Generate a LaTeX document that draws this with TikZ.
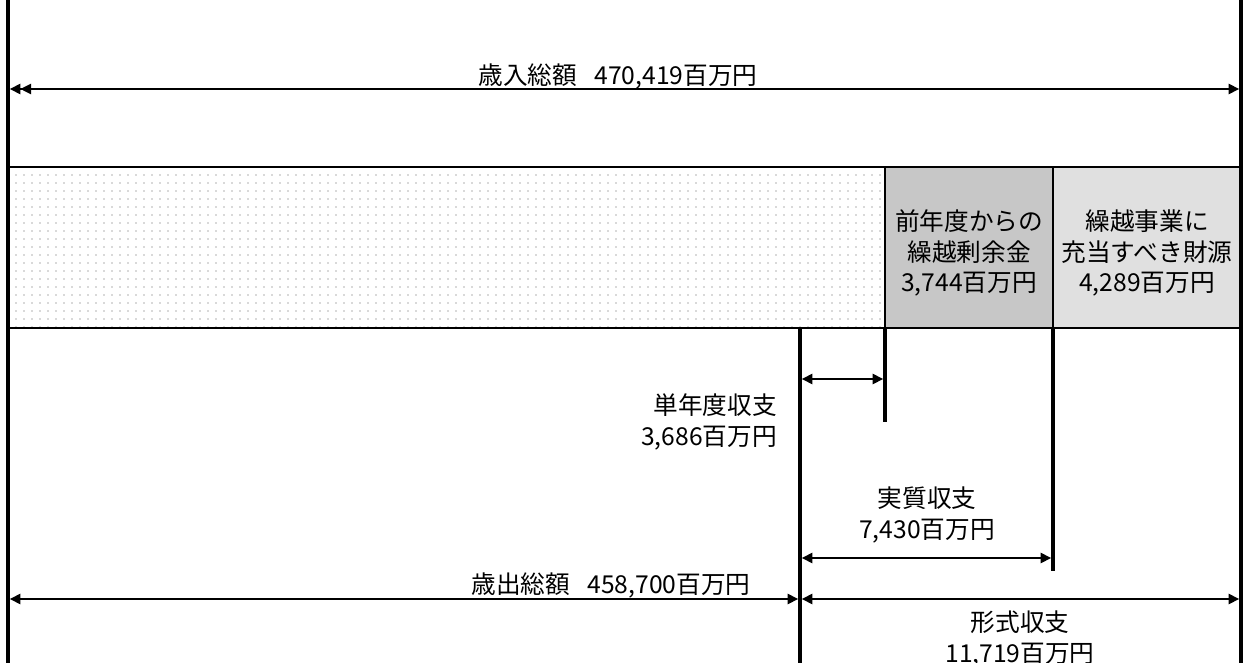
\documentclass[tikz,border=0pt]{standalone}
\usepackage{fontspec}
\setmainfont{Noto Sans CJK JP}
\usetikzlibrary{arrows.meta,patterns.meta}
\begin{document}
\begin{tikzpicture}[x=0.75pt,y=-0.75pt,
  wall/.style={line width=2.6pt},
  boxline/.style={line width=2pt},
  dimline/.style={line width=1.8pt},
  both/.style={dimline,{Triangle[length=8pt,width=7.5pt]}-{Triangle[length=8pt,width=7.5pt]}},
  lbl/.style={font=\fontsize{18.5}{23}\selectfont, inner sep=0pt, align=center},
  seglight/.style={pattern={Dots[distance=6pt,radius=0.6pt]}, pattern color=black!30},
  segmid/.style={fill=black!22},
  segpale/.style={fill=black!12}]
\useasboundingbox (0,0) rectangle (1247,663);

% named corner points
\coordinate (TL) at (8,0);    \coordinate (BL) at (8,663);
\coordinate (TR) at (1241,0); \coordinate (BR) at (1241,663);
\coordinate (b1) at (8,167);  \coordinate (b2) at (885,328);
\coordinate (b3) at (885,167);\coordinate (b4) at (1053,328);
\coordinate (b5) at (1053,167);\coordinate (b6) at (1241,328);

% box segments
\path[seglight] (b1) rectangle (b2);
\path[segmid] (b3) rectangle (b4);
\path[segpale] (b5) rectangle (b6);
\draw[boxline] (b1) rectangle (b6);
\draw[boxline] (b3) -- (885,328);
\draw[boxline] (b5) -- (1053,328);

% outer walls
\draw[wall] (TL) -- (BL);
\draw[wall] (TR) -- (BR);

% inner verticals
\coordinate (v1t) at (800,328);  \coordinate (v1b) at (800,663);
\coordinate (v2t) at (885,328);  \coordinate (v2b) at (885,422);
\coordinate (v3t) at (1053,328); \coordinate (v3b) at (1053,571);
\draw[wall] (v1t) -- (v1b);
\draw[wall] (v2t) -- (v2b);
\draw[wall] (v3t) -- (v3b);

% top dimension
\coordinate (a1) at (9.7,89);  \coordinate (a2) at (1239.3,89);
\draw[dimline,{Triangle[length=8pt,width=7.5pt]Triangle[length=8pt,width=7.5pt]}-{Triangle[length=8pt,width=7.5pt]}] (a1) -- (a2);
\node[lbl] (tin) at (618,76) {歳入総額\hspace{0.7em}470,419百万円};

% box texts
\node[lbl] (tprev) at (969,253) {前年度からの\\繰越剰余金\\3,744百万円};
\node[lbl] (tcarry) at (1147,253) {繰越事業に\\充当すべき財源\\4,289百万円};

% single year balance
\coordinate (c1) at (801.7,379); \coordinate (c2) at (883.3,379);
\draw[both] (c1) -- (c2);
\node[lbl,anchor=east,align=right] (tsingle) at (777,422) {単年度収支\\3,686百万円};

% real balance
\coordinate (d1) at (801.7,558); \coordinate (d2) at (1051.3,558);
\draw[both] (d1) -- (d2);
\node[lbl] (treal) at (927,515) {実質収支\\7,430百万円};

% bottom dimensions
\coordinate (e1) at (9.7,599); \coordinate (e2) at (798.3,599);
\coordinate (e3) at (801.7,599); \coordinate (e4) at (1239.3,599);
\draw[both] (e1) -- (e2);
\draw[both] (e3) -- (e4);
\node[lbl] (tout) at (611,585) {歳出総額\hspace{0.7em}458,700百万円};
\node[lbl] (tform) at (1020,639) {形式収支\\11,719百万円};
\end{tikzpicture}
\end{document}
